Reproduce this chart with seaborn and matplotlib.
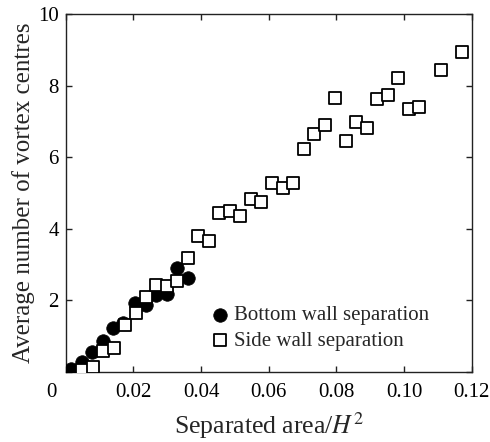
import matplotlib
matplotlib.use("Agg")
import matplotlib.pyplot as plt
import matplotlib.transforms as mtransforms
import seaborn as sns
import pandas as pd

bottom_x = [0.0015, 0.0048, 0.0079, 0.0111, 0.0141, 0.0170, 0.0205, 0.0236, 0.0267, 0.0299, 0.0330, 0.0361]
bottom_y = [0.065, 0.28, 0.54, 0.87, 1.21, 1.37, 1.91, 1.86, 2.14, 2.17, 2.89, 2.63]

side_x = [0.0049, 0.0080, 0.0111, 0.0144, 0.0175, 0.0207, 0.0236, 0.0267, 0.0299, 0.0330,
          0.0361, 0.0392, 0.0424, 0.0454, 0.0486, 0.0516, 0.0548, 0.0578, 0.0610, 0.0641,
          0.0672, 0.0703, 0.0734, 0.0765, 0.0796, 0.0828, 0.0858, 0.0890, 0.0921, 0.0952,
          0.0983, 0.1015, 0.1045, 0.1108, 0.1170]
side_y = [0.047, 0.12, 0.58, 0.65, 1.30, 1.63, 2.10, 2.42, 2.40, 2.54,
          3.19, 3.80, 3.65, 4.45, 4.49, 4.35, 4.82, 4.75, 5.29, 5.14,
          5.28, 6.23, 6.64, 6.90, 7.66, 6.46, 6.99, 6.82, 7.62, 7.74,
          8.22, 7.34, 7.41, 8.45, 8.95]

xticks = [0, 0.02, 0.04, 0.06, 0.08, 0.10, 0.12]
xticklabels = ["0", "0.02", "0.04", "0.06", "0.08", "0.10", "0.12"]
yticks = [0, 2, 4, 6, 8, 10]
yticklabels = ["", "2", "4", "6", "8", "10"]

sns.set_style("ticks")
plt.rcParams["font.family"] = ["Liberation Serif", "DejaVu Serif"]
plt.rcParams["mathtext.fontset"] = "stix"

fig = plt.figure(figsize=(4.9, 4.42), dpi=100)
ax = fig.add_axes([0.134, 0.159, 0.829, 0.809])

df_b = pd.DataFrame({"x": bottom_x, "y": bottom_y})
df_s = pd.DataFrame({"x": side_x, "y": side_y})

sns.scatterplot(data=df_b, x="x", y="y", ax=ax, marker="o", s=95,
                color="black", edgecolor="black", linewidth=0.5,
                label="Bottom wall separation", zorder=3)
sns.scatterplot(data=df_s, x="x", y="y", ax=ax, marker="s", s=80,
                facecolor="white", edgecolor="black", linewidth=1.3,
                label="Side wall separation", zorder=4)

ax.set_xlim(0, 0.12)
ax.set_ylim(0, 10)
ax.set_xticks(xticks)
ax.set_xticklabels(xticklabels)
ax.set_yticks(yticks)
ax.set_yticklabels(yticklabels)
ax.tick_params(direction="in", top=True, right=True, length=4, width=1,
               labelsize=15, color="#222222", labelcolor="black")
ax.tick_params(axis="x", pad=8)
ax.tick_params(axis="y", pad=5)
for sp in ax.spines.values():
    sp.set_visible(True)
    sp.set_linewidth(1.0)
    sp.set_color("#222222")

# corner "0" label sits left of the axis origin
lab0 = ax.get_xticklabels()[0]
lab0.set_transform(lab0.get_transform() + mtransforms.ScaledTranslation(-14 / 100, 0, fig.dpi_scale_trans))

ax.set_xlabel("Separated area/$H^2$", fontsize=18.5, labelpad=6)
ax.set_ylabel("Average number of vortex centres", fontsize=18, labelpad=2)

leg = ax.legend(loc="lower left", bbox_to_anchor=(0.33, 0.035), frameon=False,
                fontsize=15, handletextpad=0.15, labelspacing=0.3,
                borderaxespad=0, handlelength=1.1)

fig.savefig("out.png", dpi=100)
